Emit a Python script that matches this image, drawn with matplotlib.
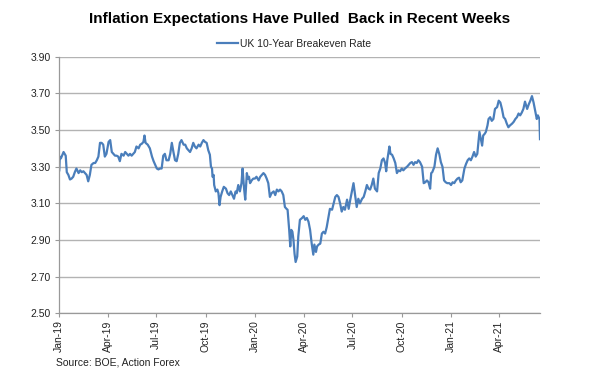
import matplotlib
matplotlib.use("Agg")
import matplotlib.pyplot as plt
import matplotlib.dates as mdates
import pandas as pd

# ---- data: days since 2019-01-01 and UK 10y breakeven (%) ----
start_date = "2019-01-01"
end_date = "2021-06-16"

days = [
    0, 1, 3, 8, 12, 14, 17, 20, 23, 26, 29, 32, 36, 39, 42, 45, 48, 51, 54, 57,
    60, 64, 67, 70, 73, 76, 79, 82, 85, 88, 92, 95, 98, 101, 104, 107, 110, 113, 116, 120,
    123, 126, 129, 132, 135, 138, 141, 144, 148, 151, 154, 157, 159, 161, 165, 169, 173, 176, 179, 182,
    185, 188, 191, 194, 197, 200, 204, 207, 210, 213, 216, 219, 222,
    225, 228, 232, 235, 238, 241, 244, 247, 250, 253, 256, 260, 263, 266, 269, 272, 275, 278, 281, 283,
    285, 286, 288, 289, 292, 295, 297, 299, 301, 304, 307, 311, 314, 317, 320, 323, 326, 329, 331, 334,
    337, 340, 342, 345, 347, 350, 352, 354, 356, 359, 362, 365, 368, 372, 375, 378, 381, 384, 387, 390,
    393, 396, 400, 403, 406, 409, 412, 415, 418, 421, 424, 426, 429, 431, 433, 435, 437, 439, 441, 444, 446,
    449, 453, 456, 459, 462, 465, 468, 471, 474, 476, 479, 481, 484, 487, 490, 493, 496, 499, 502, 505,
    509, 512, 515, 518, 521, 524, 527, 530, 533, 537, 540, 543, 546, 549, 552, 555, 558, 561, 565, 568,
    571, 574, 577, 580, 583, 586, 589, 593, 596, 599, 602, 605, 608, 610, 612, 616, 618, 621, 624, 627,
    630, 633, 636, 639, 642, 645, 649, 652, 655, 658, 661, 664, 667, 670,
    673, 677, 680, 683, 686, 689, 692, 694, 696, 700, 703, 706, 709, 712, 715, 718, 721, 724, 728, 731,
    734, 737, 740, 743, 746, 749, 752, 756, 759, 762, 765, 768, 771, 774, 777, 780, 784, 786, 789, 791,
    794, 796, 799, 801, 804, 807, 810, 813, 817, 820, 823, 826, 829, 832, 835, 838, 841, 845, 848, 851,
    854, 857, 860, 863, 866, 869, 873, 876, 879, 882, 885, 888, 891, 893, 896, 897,
]

breakeven = [
    3.28, 3.355, 3.345, 3.38, 3.36, 3.27, 3.255, 3.23, 3.235, 3.245, 3.27, 3.29, 3.265, 3.28, 3.27, 3.275, 3.265, 3.255, 3.22, 3.255,
    3.31, 3.32, 3.32, 3.335, 3.355, 3.43, 3.43, 3.42, 3.355, 3.37, 3.435, 3.445, 3.38, 3.37, 3.36, 3.36, 3.355, 3.33, 3.37, 3.36,
    3.38, 3.37, 3.36, 3.37, 3.36, 3.37, 3.38, 3.41, 3.40, 3.42, 3.425, 3.435, 3.47, 3.43, 3.42, 3.40, 3.355, 3.33, 3.31, 3.29,
    3.285, 3.29, 3.29, 3.36, 3.37, 3.335, 3.335, 3.37, 3.43, 3.38, 3.335, 3.33, 3.37,
    3.43, 3.445, 3.42, 3.42, 3.40, 3.39, 3.38, 3.40, 3.43, 3.41, 3.40, 3.42, 3.41, 3.43, 3.445, 3.435, 3.43, 3.39, 3.365, 3.30,
    3.29, 3.245, 3.255, 3.20, 3.165, 3.175, 3.155, 3.09, 3.135, 3.165, 3.19, 3.18, 3.155, 3.145, 3.165, 3.145, 3.125, 3.165, 3.155, 3.20,
    3.165, 3.21, 3.29, 3.175, 3.12, 3.265, 3.235, 3.245, 3.21, 3.225, 3.235, 3.235, 3.245, 3.225, 3.245, 3.255, 3.265, 3.255, 3.235, 3.21,
    3.135, 3.155, 3.165, 3.145, 3.175, 3.165, 3.175, 3.165, 3.145, 3.08, 3.07, 3.065, 2.955, 2.865, 2.955, 2.945, 2.90, 2.825, 2.78, 2.81, 2.92,
    3.01, 3.02, 3.03, 3.01, 3.02, 3.00, 2.955, 2.88, 2.82, 2.875, 2.835, 2.865, 2.875, 2.88, 2.935, 2.945, 2.935, 2.97, 3.02, 3.07,
    3.065, 3.10, 3.135, 3.145, 3.135, 3.10, 3.055, 3.08, 3.065, 3.12, 3.07, 3.12, 3.165, 3.21, 3.145, 3.08, 3.125, 3.10, 3.125, 3.135,
    3.165, 3.20, 3.18, 3.175, 3.20, 3.235, 3.18, 3.165, 3.265, 3.29, 3.335, 3.345, 3.32, 3.275, 3.335, 3.41, 3.37, 3.365, 3.345, 3.32,
    3.265, 3.28, 3.275, 3.29, 3.28, 3.29, 3.30, 3.31, 3.32, 3.325, 3.31, 3.325, 3.32, 3.335,
    3.325, 3.30, 3.21, 3.215, 3.225, 3.215, 3.18, 3.265, 3.27, 3.30, 3.365, 3.40, 3.37, 3.325, 3.30, 3.225, 3.215, 3.21, 3.21, 3.20,
    3.215, 3.21, 3.225, 3.235, 3.24, 3.215, 3.225, 3.29, 3.315, 3.335, 3.345, 3.335, 3.355, 3.38, 3.355, 3.37, 3.49, 3.46, 3.415, 3.47,
    3.48, 3.49, 3.525, 3.56, 3.57, 3.55, 3.56, 3.615, 3.625, 3.66, 3.65, 3.615, 3.57, 3.56, 3.535, 3.515, 3.525, 3.535, 3.545, 3.56,
    3.57, 3.59, 3.58, 3.595, 3.615, 3.655, 3.615, 3.64, 3.66, 3.685, 3.65, 3.605, 3.56, 3.58, 3.56, 3.45,
]

y_ticks = [2.50, 2.70, 2.90, 3.10, 3.30, 3.50, 3.70, 3.90]
title = "Inflation Expectations Have Pulled  Back in Recent Weeks"
series_name = "UK 10-Year Breakeven Rate"
source = "Source: BOE, Action Forex"

dates = pd.Timestamp(start_date) + pd.to_timedelta(days, unit="D")

plt.rcParams["font.family"] = ["Liberation Sans", "DejaVu Sans"]

fig = plt.figure(figsize=(6.0, 3.91), dpi=100)
ax = fig.add_axes([0.0988, 0.1987, 0.9 - 0.0988, 0.855 - 0.1987])

line_color = "#4a7ebb"
grid_color = "#b3b3b3"

ax.plot(dates, breakeven, color=line_color, linewidth=1.6, label=series_name)

ax.set_xlim(pd.Timestamp(start_date), pd.Timestamp(end_date))
ax.set_ylim(2.50, 3.90)
ax.set_yticks(y_ticks)
ax.set_yticklabels([f"{v:.2f}" for v in y_ticks])

ax.xaxis.set_major_locator(mdates.MonthLocator(bymonth=[1, 4, 7, 10]))
ax.xaxis.set_major_formatter(mdates.DateFormatter("%b-%y"))
for lbl in ax.get_xticklabels():
    lbl.set_rotation(90)

ax.grid(axis="y", color=grid_color, linewidth=1.0)
ax.set_axisbelow(True)
for s in ["top", "right"]:
    ax.spines[s].set_visible(False)
for s in ["left", "bottom"]:
    ax.spines[s].set_color("#999999")
    ax.spines[s].set_linewidth(0.9)

ax.tick_params(axis="both", labelsize=7.5, colors="#999999", labelcolor="#222222", length=3, width=0.8)
ax.tick_params(axis="x", pad=2)
ax.tick_params(axis="y", pad=3)

fig.text(0.5, 0.951, title, ha="center", va="center", fontsize=11, fontweight="bold", color="#000000")
fig.legend(loc="center", bbox_to_anchor=(0.49, 0.888), frameon=False, fontsize=7.5,
           handlelength=2.0, handletextpad=0.2, labelcolor="#222222")
fig.text(56 / 600, 1 - 362.7 / 391, source, ha="left", va="center", fontsize=7.5, color="#222222")

fig.savefig("out.png", dpi=100, facecolor="white")
